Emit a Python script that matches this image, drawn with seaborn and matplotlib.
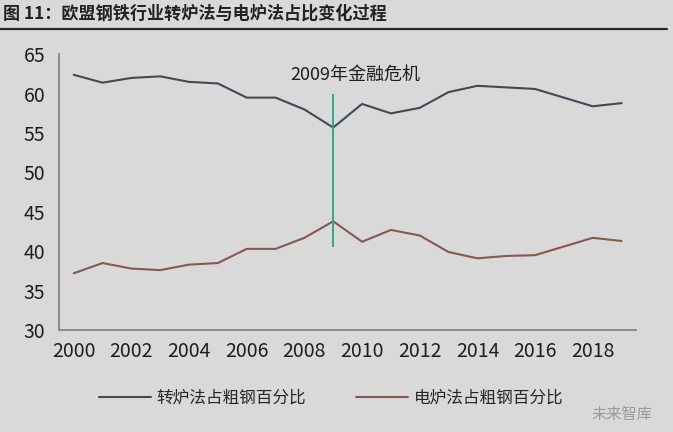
import numpy as np
import pandas as pd
import matplotlib
matplotlib.use('Agg')
import matplotlib.pyplot as plt
import seaborn as sns

# data (percent of crude steel)
years = list(range(2000, 2020))
bof_share = [62.4, 61.4, 62.0, 62.2, 61.5, 61.3, 59.5, 59.5, 58.0, 55.7,
             58.7, 57.5, 58.2, 60.2, 61.0, 60.8, 60.6, 59.5, 58.4, 58.8]
eaf_share = [37.2, 38.5, 37.8, 37.6, 38.3, 38.5, 40.3, 40.3, 41.7, 43.8,
             41.2, 42.7, 42.0, 39.9, 39.1, 39.4, 39.5, 40.6, 41.7, 41.3]
series_names = ['转炉法占粗钢百分比', '电炉法占粗钢百分比']
crisis_year = 2009
crisis_label = '2009年金融危机'
title = '图 11：欧盟钢铁行业转炉法与电炉法占比变化过程'

bg = '#d9d9d9'
sns.set_theme(style='white', rc={'axes.facecolor': bg, 'figure.facecolor': bg})
plt.rcParams['font.family'] = ['Noto Sans CJK SC', 'DejaVu Sans']

df = pd.DataFrame({'pos': np.arange(len(years)),
                   series_names[0]: bof_share,
                   series_names[1]: eaf_share})
long = df.melt(id_vars='pos', var_name='series', value_name='share')

fig = plt.figure(figsize=(6.73, 4.32), dpi=100)
ax = fig.add_axes([0.0881, 0.2361, 0.8569, 0.6382])

sns.lineplot(data=long, x='pos', y='share', hue='series', hue_order=series_names,
             palette=['#3e4a56', '#8a5650'], linewidth=1.5, ax=ax, legend=False)

ci = years.index(crisis_year)
ax.vlines(ci, 40.5, 60, color='#2fa886', linewidth=1.4)
ax.text(ci + 0.76, 62.4, crisis_label, ha='center', va='center',
        fontsize=13, color='#1e1e1e')

ax.set_xlim(-0.5, len(years) - 0.5)
ax.set_ylim(30, 65)
ax.set_yticks(range(30, 66, 5))
ax.set_xticks(np.arange(-0.5, len(years), 2))
ax.set_xticklabels([])
ax.set_xticks(np.arange(0, len(years), 2), minor=True)
ax.set_xticklabels([str(y) for y in years[::2]], minor=True)
ax.tick_params(axis='x', which='major', direction='in', length=5, width=1.2, color='#8a8a8a')
ax.tick_params(axis='x', which='minor', length=0, pad=8, labelsize=14, labelcolor='#1e1e1e')
ax.tick_params(axis='y', direction='in', length=5, width=1.2, color='#8a8a8a',
               pad=10, labelsize=14, labelcolor='#1e1e1e')
ax.set_xlabel('')
ax.set_ylabel('')
sns.despine(ax=ax)
for side in ['left', 'bottom']:
    ax.spines[side].set_color('#8a8a8a')
    ax.spines[side].set_linewidth(1.4)

handles = [plt.Line2D([], [], color='#3e4a56', lw=1.5),
           plt.Line2D([], [], color='#8a5650', lw=1.5)]
fig.legend(handles, series_names, loc='center', bbox_to_anchor=(0.492, 0.079),
           ncol=2, frameon=False, fontsize=12, handlelength=3.1,
           handletextpad=0.35, columnspacing=3.0)

fig.text(0.004, 0.968, title, ha='left', va='center', fontsize=12.3,
         fontweight='bold', color='#222222')
fig.add_artist(plt.Line2D([0.0, 0.991], [0.933, 0.933], color='#2a2a2a', lw=1.6))
fig.text(0.97, 0.04, '未来智库', ha='right', va='center', fontsize=11, color='#9a9a9a')

fig.savefig('out.png', dpi=100, facecolor=bg)
